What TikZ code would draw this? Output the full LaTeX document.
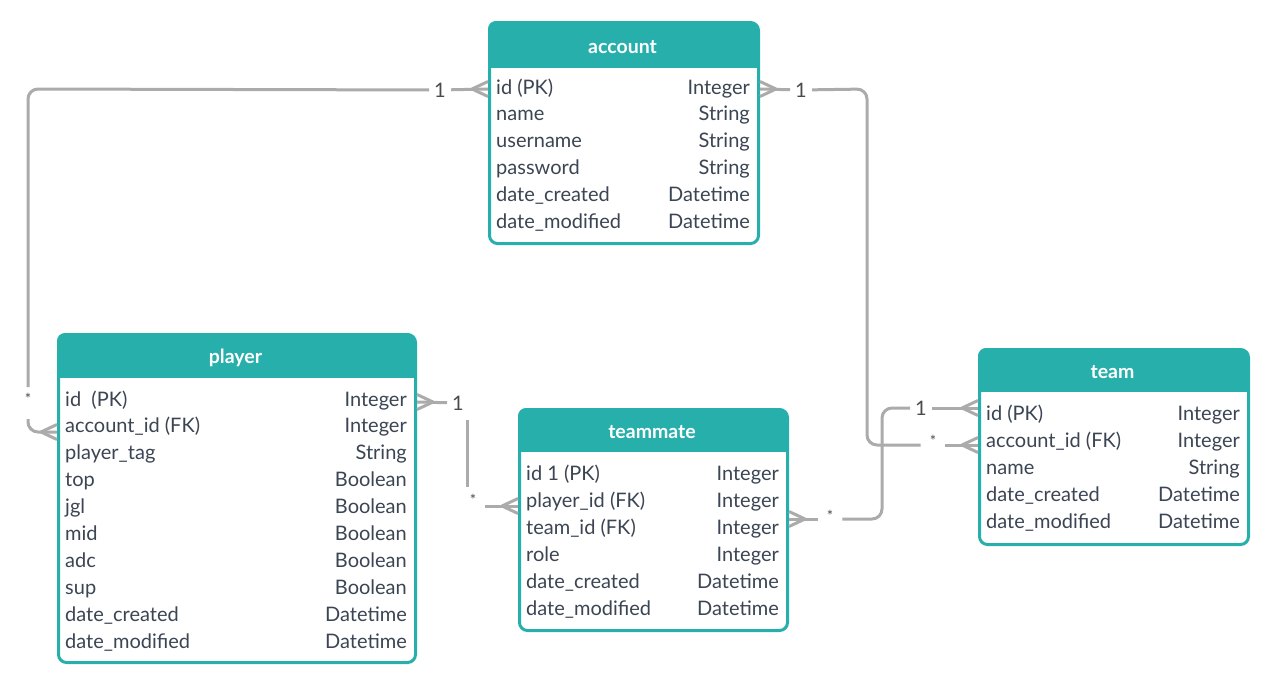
\documentclass[tikz,border=0pt]{standalone}
\usepackage{fontspec}
\setmainfont{Lato}
\usetikzlibrary{calc}
\definecolor{teal0}{HTML}{27AFAC}
\definecolor{txt}{HTML}{3B4553}
\definecolor{conncol}{HTML}{ABABAB}
\definecolor{lbl}{HTML}{4A4A4A}
\tikzset{
  tbl/.style={draw=teal0, line width=3pt, rounded corners=8pt, inner sep=0pt, anchor=north west},
  hdr/.style={text=white, font=\fontsize{19.5}{22}\selectfont\bfseries},
  col/.style={text=txt, font=\fontsize{20}{22}\selectfont, anchor=base west, inner sep=0pt},
  typ/.style={text=txt, font=\fontsize{20}{22}\selectfont, anchor=base east, inner sep=0pt},
  conn/.style={draw=conncol, line width=3pt, rounded corners=10pt},
  connline/.style={draw=conncol, line width=3pt},
  one/.style={text=lbl, font=\fontsize{20}{22}\selectfont, inner xsep=5pt, inner ysep=4pt},
  many/.style={text=lbl, font=\fontsize{15}{16}\selectfont, inner xsep=9pt, inner ysep=6pt},
}
\newcommand\ertable[7]{%
  \begin{scope}
    \clip[rounded corners=8pt] (#2,-#3) rectangle (#4,-#5);
    \fill[white] (#2,-#3) rectangle (#4,-#5);
    \fill[teal0] (#2,-#3) rectangle (#4,-#6);
  \end{scope}
  \node[tbl, minimum width={(#4-#2)*1pt}, minimum height={(#5-#3)*1pt}] (#1) at (#2,-#3) {};
  \node[hdr] (#1-title) at ({(#2+#4)/2},{-(#3+#6)/2-2.5}) {#7};
}
\newcommand\errows[6]{%
  \foreach \colname/\coltype [count=\i] in {#6}{
    \pgfmathsetmacro\rowy{-(#4+(\i-1)*#5+7)}
    \node[col] (#1-\i) at (#2+8,\rowy) {\colname};
    \node[typ] (#1-t\i) at (#3-7,\rowy) {\coltype};
  }}
\newcommand\crow[2]{%
  \draw[connline] ($(#1)+(#2*16,0)$) -- ($(#1)+(0,7.5)$)
                  ($(#1)+(#2*16,0)$) -- ($(#1)+(0,-7.5)$);}
\begin{document}
\begin{tikzpicture}[x=1pt,y=1pt]
\useasboundingbox (0,0) rectangle (1265,-680);
% tables
\ertable{account}{488}{21}{757}{242}{68}{account}
\errows{account}{488}{757}{87}{26.9}{id (PK)/Integer, name/String, username/String, password/String, date\_created/Datetime, date\_modified/Datetime}
\ertable{player}{57}{333}{414}{661}{378}{player}
\errows{player}{57}{414}{399}{26.9}{id\ \ (PK)/Integer, account\_id (FK)/Integer, player\_tag/String, top/Boolean, jgl/Boolean, mid/Boolean, adc/Boolean, sup/Boolean, date\_created/Datetime, date\_modified/Datetime}
\ertable{teammate}{518}{408}{786}{629}{452}{teammate}
\errows{teammate}{518}{786}{473}{27}{id 1 (PK)/Integer, player\_id (FK)/Integer, team\_id (FK)/Integer, role/Integer, date\_created/Datetime, date\_modified/Datetime}
\ertable{team}{978}{348}{1247}{543}{392}{team}
\errows{team}{978}{1247}{413}{27.2}{id (PK)/Integer, account\_id (FK)/Integer, name/String, date\_created/Datetime, date\_modified/Datetime}
% connector endpoints on table edges
\coordinate (aL) at (account.west |- 0,-89);
\coordinate (aR) at (account.east |- 0,-89);
\coordinate (pL) at (player.west |- 0,-432);
\coordinate (pR) at (player.east |- 0,-402);
\coordinate (mL) at (teammate.west |- 0,-506);
\coordinate (mR) at (teammate.east |- 0,-519);
\coordinate (tL1) at (team.west |- 0,-408);
\coordinate (tL2) at (team.west |- 0,-445);
% labels
\node[one] (c1one) at (440,-90) {1};
\node[many] (c1many) at (28,-399) {*};
\node[one] (c2one) at (801,-90) {1};
\node[many] (c2many) at (933,-441) {*};
\node[many] (c3many) at (830,-516) {*};
\node[one] (c3one) at (921,-408) {1};
\node[one] (c4one) at (458,-403) {1};
\node[many] (c4many) at (473,-500) {*};
\coordinate (c4top) at (467,-420);
\coordinate (c4bot) at (467,-487);
\coordinate (c1bend) at (28,-419);
% connector account -- player
\draw[connline] (aL) -- (c1one);
\draw[conn] (c1one) -- (28,-89) -- (c1many);
\draw[conn] (c1bend) -- (28,-432) -- (pL);
\crow{aL}{-1}
\crow{pL}{-1}
% connector account -- team
\draw[connline] (aR) -- (c2one);
\draw[conn] (c2one) -- (867,-89) -- (867,-445) -- (c2many.west |- 0,-445);
\draw[connline] (c2many.east |- tL2) -- (tL2);
\crow{aR}{1}
\crow{tL2}{-1}
% connector teammate -- team
\draw[connline] (mR) -- (mR -| c3many.west);
\draw[conn] (mR -| c3many.east) -- (882,-519) -- (882,-408) -- (c3one);
\draw[connline] (c3one) -- (tL1);
\crow{mR}{1}
\crow{tL1}{-1}
% connector player -- teammate
\draw[connline] (pR) -- (c4one);
\draw[connline] (c4top) -- (c4bot);
\draw[connline] (c4many.east |- mL) -- (mL);
\crow{pR}{1}
\crow{mL}{-1}
\end{tikzpicture}
\end{document}
